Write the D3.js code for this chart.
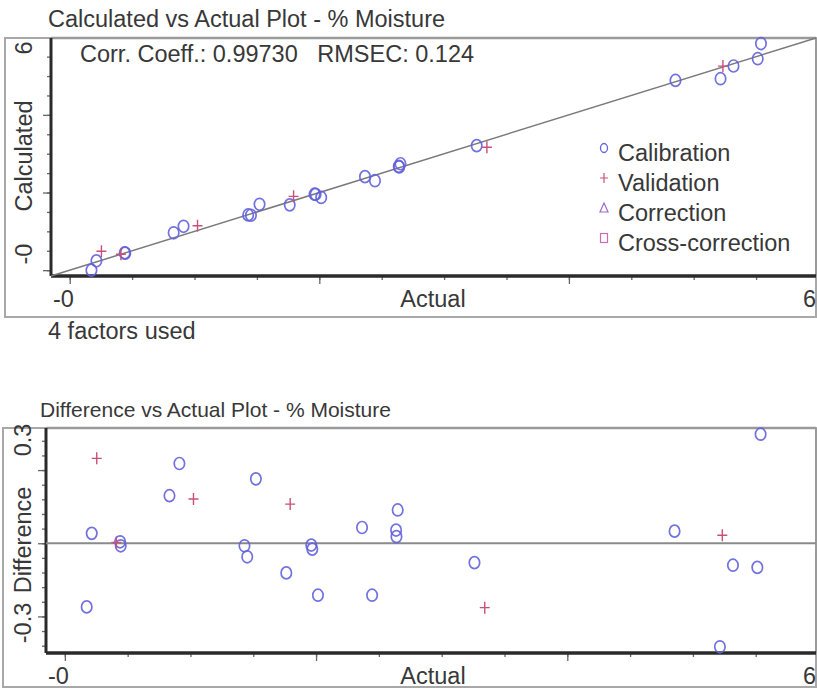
<!DOCTYPE html>
<html><head><meta charset="utf-8">
<script src="https://cdn.jsdelivr.net/npm/d3@7"></script>
<style>
body{margin:0;background:#fff}
text{font-family:"Liberation Sans",Arial,sans-serif;fill:#383838;white-space:pre}
</style>
</head><body>
<svg id="c" width="817" height="689"></svg>
<script>
// ---- data ----
const calActual     = [0.174,0.214,0.440,0.445,0.833,0.912,1.430,1.452,1.521,1.763,1.962,1.970,2.015,2.366,2.446,2.637,2.640,2.650,3.261,4.854,5.215,5.319,5.513,5.539];
const calDifference = [-0.174,0.027,0.004,-0.007,0.130,0.218,-0.007,-0.037,0.176,-0.081,-0.005,-0.016,-0.142,0.043,-0.142,0.036,0.018,0.091,-0.053,0.033,-0.283,-0.060,-0.066,0.298];
const calCalculated = [0.000,0.241,0.444,0.438,0.963,1.130,1.423,1.415,1.697,1.682,1.957,1.954,1.873,2.409,2.304,2.673,2.658,2.741,3.208,4.887,4.932,5.259,5.447,5.837];
const valActual     = [0.254,0.410,1.024,1.794,3.343,5.234];
const valDifference = [0.232,0.002,0.121,0.107,-0.176,0.022];
const valCalculated = [0.486,0.412,1.145,1.901,3.167,5.256];
const legendLabels  = ["Calibration","Validation","Correction","Cross-correction"];
const xEndLabels    = ["-0","6"];
const calcEndLabels = ["-0","6"];
const diffEndLabels = ["-0.3","0.3"];
const titleTop = "Calculated vs Actual Plot - % Moisture";
const titleBottom = "Difference vs Actual Plot - % Moisture";
const statsText = "Corr. Coeff.: 0.99730   RMSEC: 0.124";
const factorsText = "4 factors used";

const svg = d3.select("#c");
const CAL = "#6262dc", VAL = "#c8507a";
const FS = 23.5;

function drawPanel(o){
  const g = svg.append("g");
  g.append("rect").attr("x",o.fx0).attr("y",o.y0).attr("width",o.x1-o.fx0).attr("height",o.fy1-o.y0)
    .attr("fill","none").attr("stroke","#a8a8a8").attr("stroke-width",2);
  g.append("line").attr("x1",o.x0).attr("x2",o.x1).attr("y1",o.y0).attr("y2",o.y0).attr("stroke","#9a9a9a").attr("stroke-width",2.5);
  g.append("line").attr("x1",o.x1).attr("x2",o.x1).attr("y1",o.y0).attr("y2",o.y1).attr("stroke","#9a9a9a").attr("stroke-width",2);

  const x = d3.scaleLinear().domain(o.xd).range([o.x0,o.x1]);
  const y = d3.scaleLinear().domain(o.yd).range([o.y1,o.y0]);

  const ax = (gen, vals, size) => gen.tickValues(vals).tickSize(size).tickFormat("");
  const xg = g.append("g").attr("transform",`translate(0,${o.y1})`);
  xg.call(ax(d3.axisBottom(x), o.xMinor, 4));
  xg.append("g").call(ax(d3.axisBottom(x), o.xMajor, 8));
  const yg = g.append("g").attr("transform",`translate(${o.x0},0)`);
  yg.call(ax(d3.axisLeft(y), o.yMinor, 4));
  yg.append("g").call(ax(d3.axisLeft(y), o.yMajor, 8));
  g.selectAll(".domain").remove();
  g.selectAll(".tick line").attr("stroke","#666").attr("stroke-width",1.3);
  g.append("line").attr("x1",o.x0).attr("x2",o.x1).attr("y1",o.y1).attr("y2",o.y1).attr("stroke","#2a2a2a").attr("stroke-width",3.5);
  g.append("line").attr("x1",o.x0).attr("x2",o.x0).attr("y1",o.y0).attr("y2",o.y1).attr("stroke","#2a2a2a").attr("stroke-width",3);

  o.ref(g,x,y);

  const pts = g.append("g");
  pts.selectAll("ellipse").data(o.cal).join("ellipse")
    .attr("cx",d=>x(d[0])).attr("cy",d=>y(d[1])).attr("rx",5.2).attr("ry",6)
    .attr("fill","none").attr("stroke",CAL).attr("stroke-width",1.7).attr("opacity",0.9);
  pts.selectAll("path").data(o.val).join("path")
    .attr("d",d=>{const cx=x(d[0]),cy=y(d[1]);return `M${cx-5},${cy}H${cx+5}M${cx},${cy-6}V${cy+6}`;})
    .attr("stroke",VAL).attr("stroke-width",1.4).attr("fill","none");

  g.append("text").attr("x",o.x0+2).attr("y",o.y1+31).attr("font-size",FS).text(xEndLabels[0]);
  g.append("text").attr("x",816).attr("y",o.y1+31).attr("font-size",FS).attr("text-anchor","end").text(xEndLabels[1]);
  g.append("text").attr("x",433).attr("y",o.y1+31).attr("font-size",FS).attr("text-anchor","middle").text("Actual");
  const rot = (t,cy)=>g.append("text").attr("transform",`translate(${o.ylx},${cy}) rotate(-90)`)
      .attr("font-size",FS).attr("text-anchor","middle").attr("dy","0.35em").text(t);
  rot(o.yEnd[0], o.yEndPos[0]);
  rot(o.yEnd[1], o.yEndPos[1]);
  rot(o.yTitle, o.yTitlePos);
  g.append("text").attr("x",o.tx).attr("y",o.ty).attr("font-size",o.tfs).text(o.title);
  return {g,x,y};
}

const rng = d3.range;
const topPanel = drawPanel({
  fx0:5, fy1:317, x0:51, x1:816, y0:38, y1:276,
  xd:[-0.15,5.98], yd:[-0.15,5.98],
  xMinor:rng(0,6,0.5), xMajor:[0,2,4], yMinor:rng(0,6,0.5), yMajor:[0,2,4],
  cal: calActual.map((a,i)=>[a,calCalculated[i]]),
  val: valActual.map((a,i)=>[a,valCalculated[i]]),
  ref:(g,x,y)=>g.append("line").attr("x1",x(-0.15)).attr("y1",y(-0.15)).attr("x2",x(5.98)).attr("y2",y(5.98))
        .attr("stroke","#7a7a7a").attr("stroke-width",1.5),
  ylx:24, yEnd:calcEndLabels, yEndPos:[254,48], yTitle:"Calculated", yTitlePos:156,
  title:titleTop, tx:48, ty:27, tfs:FS
});
topPanel.g.append("text").attr("x",80).attr("y",62).attr("font-size",FS).text(statsText);
svg.append("text").attr("x",48).attr("y",339).attr("font-size",FS).text(factorsText);

const lg = topPanel.g.append("g");
legendLabels.forEach((t,i)=>{
  const by = 161 + i*30, sx = 604, sy = by-13;
  lg.append("text").attr("x",618).attr("y",by).attr("font-size",FS).text(t);
  if(i===0) lg.append("ellipse").attr("cx",sx).attr("cy",sy).attr("rx",3.5).attr("ry",4.5).attr("fill","none").attr("stroke",CAL).attr("stroke-width",1.3);
  if(i===1) lg.append("path").attr("d",`M${sx-4},${sy}H${sx+4}M${sx},${sy-5}V${sy+5}`).attr("stroke",VAL).attr("stroke-width",1.2);
  if(i===2) lg.append("path").attr("d",`M${sx},${sy-5}L${sx+4},${sy+4}L${sx-4},${sy+4}Z`).attr("fill","none").attr("stroke","#9a6cc8").attr("stroke-width",1.2);
  if(i===3) lg.append("rect").attr("x",sx-3.5).attr("y",sy-4.5).attr("width",7).attr("height",9).attr("fill","none").attr("stroke","#c86cb4").attr("stroke-width",1.2);
});

drawPanel({
  fx0:3, fy1:687, x0:46, x1:816, y0:428, y1:653,
  xd:[-0.15,5.98], yd:[-0.30,0.315],
  xMinor:rng(0,6,0.5), xMajor:[0,2,4], yMinor:rng(-0.28,0.30,0.04), yMajor:[-0.2,0,0.2],
  cal: calActual.map((a,i)=>[a,calDifference[i]]),
  val: valActual.map((a,i)=>[a,valDifference[i]]),
  ref:(g,x,y)=>g.append("line").attr("x1",x(-0.15)).attr("x2",x(5.98)).attr("y1",y(0)).attr("y2",y(0))
        .attr("stroke","#8a8a8a").attr("stroke-width",2),
  ylx:23, yEnd:diffEndLabels, yEndPos:[623,440], yTitle:"Difference", yTitlePos:540,
  title:titleBottom, tx:40, ty:417, tfs:21
});
</script>
</body></html>
